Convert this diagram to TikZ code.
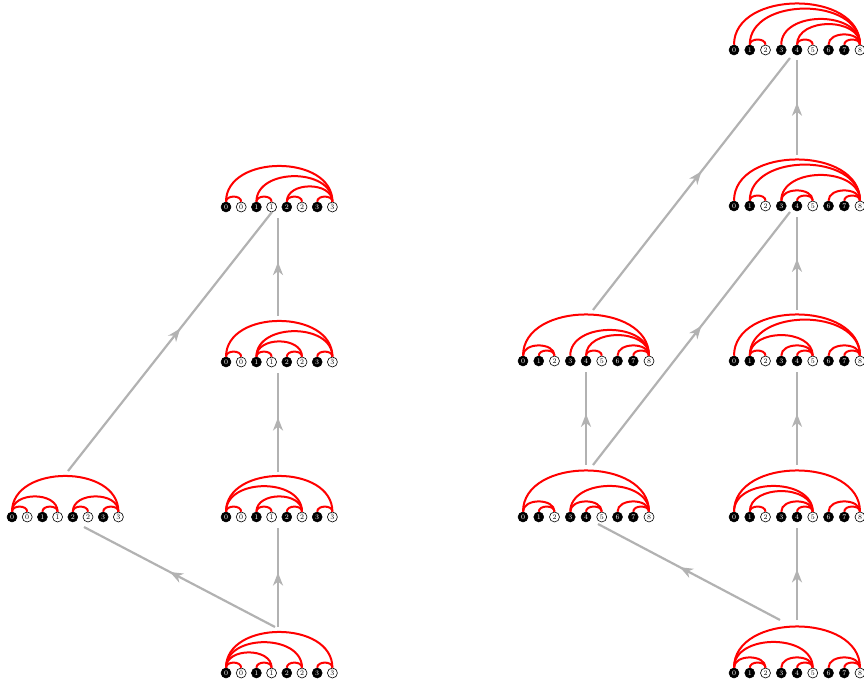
\documentclass[tikz,border=0pt]{standalone}
\usetikzlibrary{arrows.meta,decorations.markings}

\tikzset{
  x=1pt, y=1pt,
  bv/.style={circle, fill=black, draw=black, line width=0.5pt, minimum size=10pt, inner sep=0pt,
             text=white, font=\fontsize{7}{7}\selectfont},
  wv/.style={circle, fill=white, draw=black, line width=0.6pt, minimum size=10pt, inner sep=0pt,
             text=black, font=\fontsize{7}{7}\selectfont},
  arcline/.style={red, line width=2pt},
  flow/.style={draw=gray!60, line width=2.2pt,
    postaction={decorate},
    decoration={markings, mark=at position 0.55 with
      {\arrow[gray!60]{Stealth[length=13pt,width=10pt,inset=4pt]}}}},
}

% Eight vertices 0, 0bar, 1, 1bar, ... , 3bar starting at x=#2 on row y=#3
\newcommand\pairdiagram[4]{%
  \foreach \i in {0,...,3} {
    \node[bv] (#1-\i) at ({#2+\i*30.4}, #3) {\i};
    \node[wv] (#1-\i w) at ({#2+\i*30.4+15.2}, #3) {$\bar{\i}$};
  }
  \foreach \a/\b in {#4}
    \draw[arcline] (#1-\a.north) to[out=90,in=90,looseness=1.15] (#1-\b.north);
}

% Nine vertices 0..8, every third one white
\newcommand\ninediagram[4]{%
  \foreach \i in {0,...,8} {
    \pgfmathtruncatemacro\r{mod(\i,3)}
    \ifnum\r=2
      \node[wv] (#1-\i) at ({#2+\i*15.75}, #3) {\i};
    \else
      \node[bv] (#1-\i) at ({#2+\i*15.75}, #3) {\i};
    \fi
  }
  \foreach \a/\b in {#4}
    \draw[arcline] (#1-\a.north) to[out=90,in=90,looseness=1.12] (#1-\b.north);
}

\begin{document}
\begin{tikzpicture}
\useasboundingbox (0,0) rectangle (864,688);

% ---- left family ----
\pairdiagram{A}{12}{171}{0/0w,1/1w,2/2w,3/3w,0/1w,0/3w,2/3w}
\pairdiagram{B0}{226}{15}{0/0w,1/1w,2/2w,3/3w,0/1w,0/2w,0/3w}
\pairdiagram{B1}{226}{171}{0/0w,1/1w,2/2w,3/3w,0/2w,0/3w,1/2w}
\pairdiagram{B2}{226}{326}{0/0w,1/1w,2/2w,3/3w,0/3w,1/3w,1/2w}
\pairdiagram{B3}{226}{481}{0/0w,1/1w,2/2w,3/3w,0/3w,1/3w,2/3w}

% ---- right family ----
\ninediagram{R0}{734}{15}{0/2,1/2,0/5,3/5,4/5,0/8,6/8,7/8}
\ninediagram{R1}{734}{171}{0/8,0/5,1/5,1/2,3/5,4/5,6/8,7/8}
\ninediagram{R2}{734}{327}{0/8,1/8,1/5,1/2,3/5,4/5,6/8,7/8}
\ninediagram{R3}{734}{482}{0/8,1/8,1/2,3/8,3/5,4/5,6/8,7/8}
\ninediagram{R4}{734}{638}{0/8,1/8,1/2,3/8,4/8,4/5,6/8,7/8}
\ninediagram{M1}{523}{171}{0/8,0/2,1/2,3/8,3/5,4/5,6/8,7/8}
\ninediagram{M2}{523}{327}{0/8,0/2,1/2,3/8,4/8,4/5,6/8,7/8}

% ---- connector ends ----
\coordinate (B0-up)  at (278, 61);
\coordinate (B0-ul)  at (275, 61);
\coordinate (B1-dn)  at (278, 160);
\coordinate (B1-up)  at (278, 216);
\coordinate (B2-dn)  at (278, 315);
\coordinate (B2-up)  at (278, 372);
\coordinate (B3-dn)  at (278, 470);
\coordinate (B3-dl)  at (272, 476);
\coordinate (A-dn)   at (84, 161);
\coordinate (A-up)   at (68, 217);

\coordinate (R0-up)  at (797, 68);
\coordinate (R0-ul)  at (780, 68);
\coordinate (R1-dn)  at (797, 160);
\coordinate (R1-up)  at (797, 223);
\coordinate (R2-dn)  at (797, 316);
\coordinate (R2-up)  at (797, 378);
\coordinate (R3-dn)  at (797, 471);
\coordinate (R3-dl)  at (790, 476);
\coordinate (R3-up)  at (797, 533);
\coordinate (R4-dn)  at (797, 628);
\coordinate (R4-dl)  at (790, 630);
\coordinate (M1-dn)  at (598, 164);
\coordinate (M1-up)  at (586, 223);
\coordinate (M1-ur)  at (593, 223);
\coordinate (M2-dn)  at (586, 316);
\coordinate (M2-ur)  at (593, 378);

% ---- connectors ----
\draw[flow] (B0-ul) -- (A-dn);
\draw[flow] (B0-up) -- (B1-dn);
\draw[flow] (B1-up) -- (B2-dn);
\draw[flow] (B2-up) -- (B3-dn);
\draw[flow] (A-up) -- (B3-dl);

\draw[flow] (R0-ul) -- (M1-dn);
\draw[flow] (R0-up) -- (R1-dn);
\draw[flow] (R1-up) -- (R2-dn);
\draw[flow] (R2-up) -- (R3-dn);
\draw[flow] (R3-up) -- (R4-dn);
\draw[flow] (M1-up) -- (M2-dn);
\draw[flow] (M1-ur) -- (R3-dl);
\draw[flow] (M2-ur) -- (R4-dl);
\end{tikzpicture}
\end{document}
